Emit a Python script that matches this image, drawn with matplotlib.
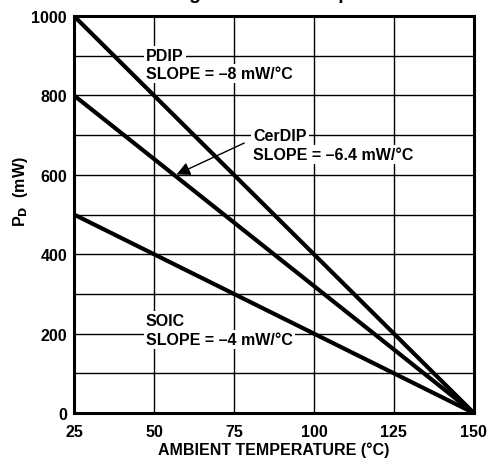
import matplotlib.pyplot as plt

plt.rcParams['font.family'] = ['Liberation Sans', 'DejaVu Sans']
plt.rcParams['font.weight'] = 'bold'

# temperatures (°C) and power dissipation (mW)
temps = [25, 150]
pdip = [1000, 0]
cerdip = [800, 0]
soic = [500, 0]

x_ticks = [25, 50, 75, 100, 125, 150]
y_ticks = [0, 200, 400, 600, 800, 1000]
y_grid = [100, 200, 300, 400, 500, 600, 700, 800, 900]

fig = plt.figure(figsize=(4.9, 4.6), dpi=100)
ax = fig.add_axes([0.151, 0.1, 0.816, 0.863])

# title cut off at top of the scan
fig.text(0.55, 1.003, 'Derating Curve vs. Temperature', ha='center', va='baseline',
         fontsize=14, fontweight='bold')

for y in y_grid:
    ax.axhline(y, color='black', lw=1.0, zorder=1)
for x in x_ticks[1:-1]:
    ax.axvline(x, color='black', lw=1.0, zorder=1)

for series in (pdip, cerdip, soic):
    ax.plot(temps, series, color='black', lw=3, solid_capstyle='butt', zorder=3)

fs = 11.5
box = dict(facecolor='white', edgecolor='none', pad=1.5)
ax.text(47.5, 900, 'PDIP', fontsize=fs, fontweight='bold', va='center', bbox=box, zorder=4)
ax.text(47.5, 855, 'SLOPE = –8 mW/°C', fontsize=fs, fontweight='bold', va='center', bbox=box, zorder=4)
ax.text(81, 700, 'CerDIP', fontsize=fs, fontweight='bold', va='center', bbox=box, zorder=4)
ax.text(81, 652, 'SLOPE = –6.4 mW/°C', fontsize=fs, fontweight='bold', va='center', bbox=box, zorder=4)
ax.text(47.5, 233, 'SOIC', fontsize=fs, fontweight='bold', va='center', bbox=box, zorder=4)
ax.text(47.5, 186, 'SLOPE = –4 mW/°C', fontsize=fs, fontweight='bold', va='center', bbox=box, zorder=4)
ax.annotate('', xy=(56.3, 598), xytext=(79, 683),
            arrowprops=dict(arrowstyle='-|>', color='black', lw=1.0, mutation_scale=20),
            zorder=5)

ax.set_xlim(25, 150)
ax.set_ylim(0, 1000)
ax.set_xticks(x_ticks)
ax.set_yticks(y_ticks)
ax.tick_params(axis='x', length=0, labelsize=fs, pad=8)
ax.tick_params(axis='y', length=0, labelsize=fs, pad=5)
for lab in ax.get_xticklabels() + ax.get_yticklabels():
    lab.set_fontweight('bold')
for s in ax.spines.values():
    s.set_linewidth(2.2)

ax.set_xlabel('AMBIENT TEMPERATURE (°C)', fontsize=fs, fontweight='bold', labelpad=2)
ax.set_ylabel('P$_{\\mathbf{D}}$  (mW)', fontsize=fs, fontweight='bold', labelpad=8)
ax.yaxis.set_label_coords(-0.11, 0.56)

fig.savefig('out.png', dpi=100)
